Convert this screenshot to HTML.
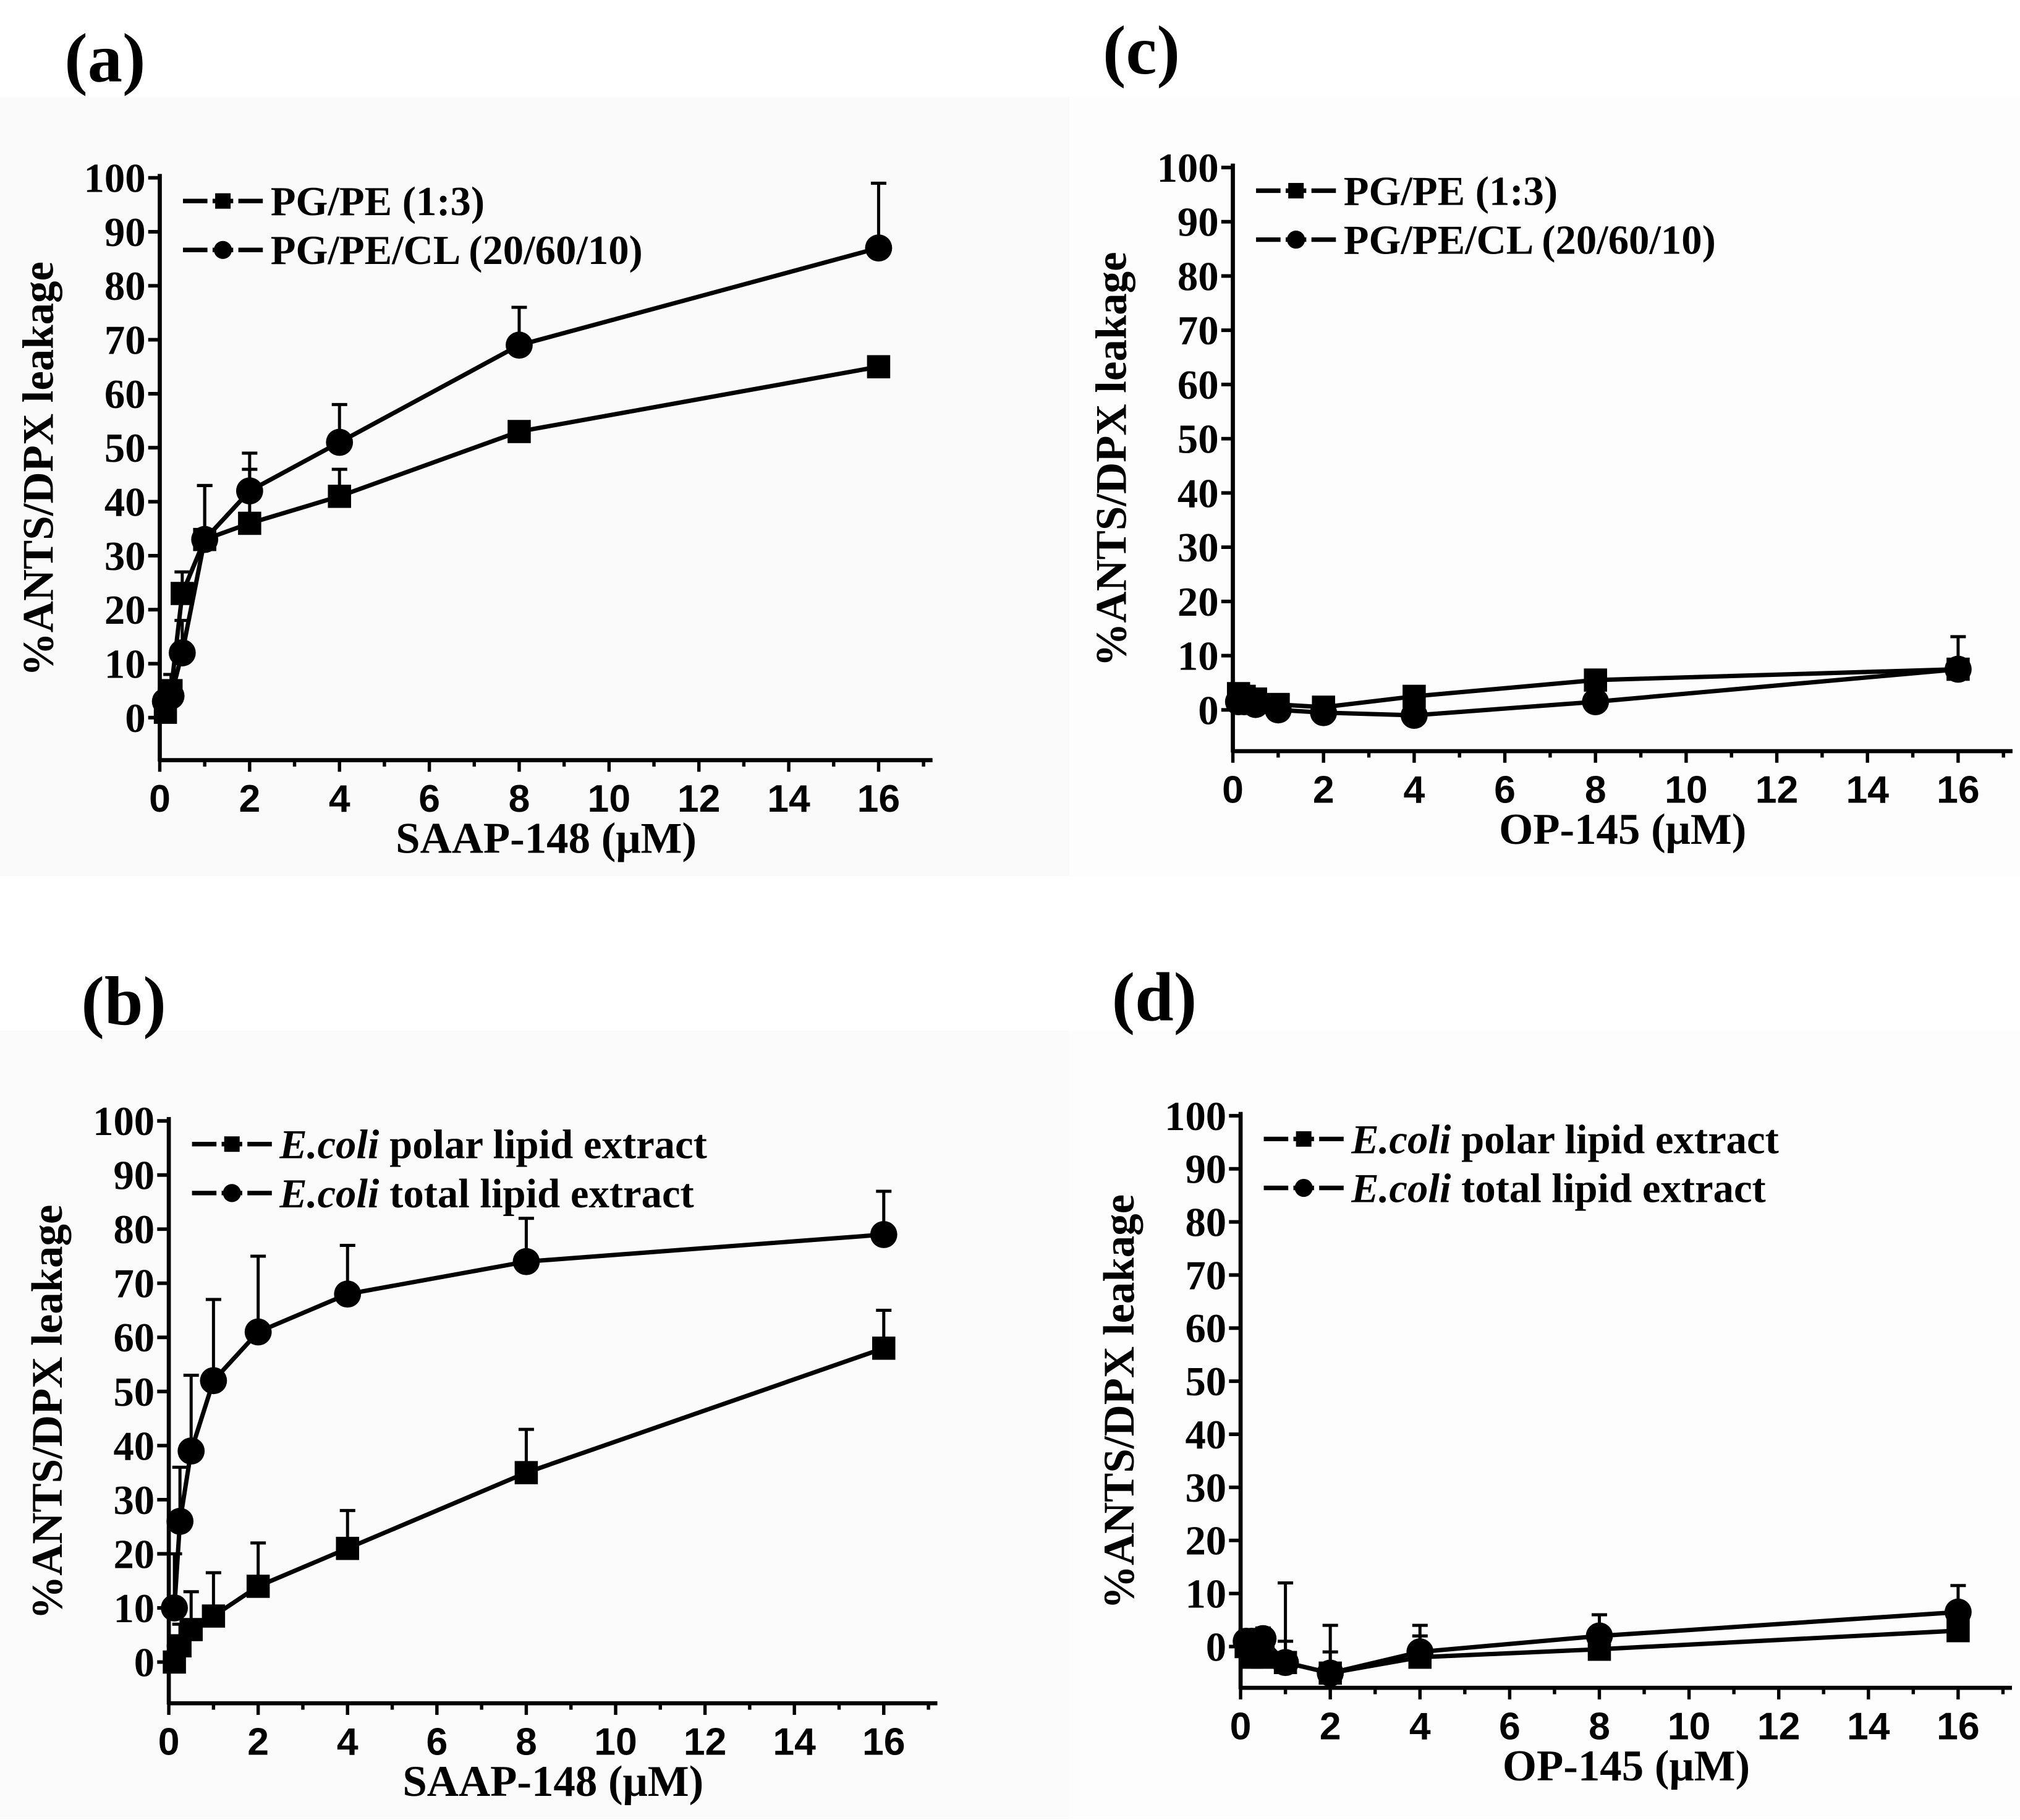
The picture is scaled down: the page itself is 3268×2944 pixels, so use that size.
<!DOCTYPE html>
<html><head><meta charset="utf-8"><style>
html,body{margin:0;padding:0;background:#fff}
svg{display:block}
.tl{font-family:"Liberation Serif",serif;font-weight:bold;font-size:32px}
.xl{font-family:"Liberation Sans",sans-serif;font-weight:bold;font-size:30px}
.ti{font-family:"Liberation Serif",serif;font-weight:bold;font-size:34px}
.lg{font-family:"Liberation Serif",serif;font-weight:bold;font-size:32px}
.pt{font-family:"Liberation Serif",serif;font-weight:bold;font-size:54px}
</style></head><body>
<svg id="fig" width="3268" height="2944" viewBox="0 0 1568 1412.6" xmlns="http://www.w3.org/2000/svg">
<rect x="0" y="0" width="1568" height="1413" fill="#fff"/>
<rect x="0" y="75" width="830" height="605" fill="#fafafa"/>
<rect x="830" y="75" width="738" height="605" fill="#fdfdfd"/>
<rect x="0" y="800" width="830" height="612" fill="#fbfbfb"/>
<rect x="830" y="800" width="738" height="612" fill="#fdfdfd"/>
</svg>
<script>
const xVals=[0.125,0.25,0.5,1,2,4,8,16];
const xTicks=[0,2,4,6,8,10,12,14,16];
const yTicks=[0,10,20,30,40,50,60,70,80,90,100];
const aSq=[1,5,23,33,36,41,53,65];
const aSqErr=[2,3,4,10,10,5,1,1];
const aCi=[3,4,12,33,42,51,69,87];
const aCiErr=[2,2,6,10,7,7,7,12];
const cSq=[3,2.5,2,1,0.5,2.5,5.5,7.5];
const cSqErr=[1,1,1,1,1,1,1,1];
const cCi=[1.5,1.5,1,0,-0.5,-1,1.5,7.5];
const cCiErr=[1,1,1,1,1,1,1,6];
const bSq=[0,3,6,8.5,14,21,35,58];
const bSqErr=[3,4,7,8,8,7,8,7];
const bCi=[10,26,39,52,61,68,74,79];
const bCiErr=[10,10,14,15,14,9,8,8];
const dSq=[0,-2,-2,-3,-5,-2,-0.5,3];
const dSqErr=[2,2,2,4,4,4,3,2];
const dCi=[1,1,1.5,-3,-5,-1,2,6.5];
const dCiErr=[2,2,2,15,9,5,4,5];

const NS="http://www.w3.org/2000/svg";
const svg=document.getElementById('fig');
function mk(tag,attrs,parent){const e=document.createElementNS(NS,tag);for(const k in attrs)e.setAttribute(k,attrs[k]);(parent||svg).appendChild(e);return e;}

const panels=[
 {id:'a',x0:124,x16:682,y0:557,y100:138,axY:590,xlab:'SAAP-148 (μM)',tx:50,ty:63,leg:['PG/PE (1:3)','PG/PE/CL (20/60/10)'],it:false,sq:aSq,sqE:aSqErr,ci:aCi,ciE:aCiErr},
 {id:'c',x0:957,x16:1520,y0:551,y100:130,axY:583,xlab:'OP-145 (μM)',tx:856,ty:57,leg:['PG/PE (1:3)','PG/PE/CL (20/60/10)'],it:false,sq:cSq,sqE:cSqErr,ci:cCi,ciE:cCiErr},
 {id:'b',x0:131,x16:686,y0:1290,y100:870,axY:1322,xlab:'SAAP-148 (μM)',tx:63,ty:795,leg:['polar lipid extract','total lipid extract'],it:true,sq:bSq,sqE:bSqErr,ci:bCi,ciE:bCiErr},
 {id:'d',x0:963,x16:1520,y0:1278,y100:866,axY:1310,xlab:'OP-145 (μM)',tx:863,ty:792,leg:['polar lipid extract','total lipid extract'],it:true,sq:dSq,sqE:dSqErr,ci:dCi,ciE:dCiErr}
];

panels.forEach(p=>{
 const g=mk('g',{});
 
 
 const X=v=>p.x0+(p.x16-p.x0)*v/16;
 const Y=v=>p.y0-(p.y0-p.y100)*v/100;
 const t=mk('text',{x:p.tx,y:p.ty,class:'pt'},g);t.textContent='('+p.id+')';
 
 
 const xEnd=X(17.2);
 const ya=mk('line',{x1:p.x0,y1:Y(100)-3,x2:p.x0,y2:p.axY+1,stroke:'#000','stroke-width':3.2},g);
 
 
 const xa=mk('line',{x1:p.x0-1,y1:p.axY,x2:xEnd,y2:p.axY,stroke:'#000','stroke-width':3.2},g);
 
 
 yTicks.forEach(v=>{
  mk('line',{x1:p.x0-9,y1:Y(v),x2:p.x0,y2:Y(v),stroke:'#000','stroke-width':2.8},g);
  const tt=mk('text',{x:p.x0-11,y:Y(v)+11,class:'tl','text-anchor':'end'},g);tt.textContent=v;
  
  
 });
 for(let v=0;v<=17;v++){
  const maj=v%2===0;
  mk('line',{x1:X(v),y1:p.axY,x2:X(v),y2:p.axY+(maj?9:5),stroke:'#000','stroke-width':2.6},g);
 }
 xTicks.forEach(v=>{
  const tt=mk('text',{x:X(v),y:p.axY+40,class:'xl','text-anchor':'middle'},g);tt.textContent=v;
  
  
 });
 const xt=mk('text',{x:(p.x0+xEnd)/2,y:p.axY+72,class:'ti','text-anchor':'middle'},g);xt.textContent=p.xlab;
 
 
 const yc=(Y(100)+p.axY)/2, yx=p.x0-83;
 const yt=mk('text',{x:yx,y:yc,class:'ti','text-anchor':'middle',transform:`rotate(-90 ${yx} ${yc})`},g);yt.textContent='%ANTS/DPX leakage';
 
 
 [[p.sq,p.sqE,'sq'],[p.ci,p.ciE,'ci']].forEach(([vals,errs,kind])=>{
  const sg=mk('g',{},g);
  
  
  mk('polyline',{points:vals.map((v,i)=>X(xVals[i])+','+Y(v)).join(' '),fill:'none',stroke:'#000','stroke-width':3.4},sg);
  vals.forEach((v,i)=>{
   const cx=X(xVals[i]),cy=Y(v),ty=Y(v+errs[i]);
   mk('line',{x1:cx,y1:cy,x2:cx,y2:ty,stroke:'#000','stroke-width':2.4},sg);
   mk('line',{x1:cx-6,y1:ty,x2:cx+6,y2:ty,stroke:'#000','stroke-width':2.4},sg);
   const m=kind==='sq'?mk('rect',{x:cx-9,y:cy-9,width:18,height:18,fill:'#000'},sg):mk('circle',{cx:cx,cy:cy,r:10.5,fill:'#000'},sg);
   
   
  });
 });
 p.leg.forEach((lab,i)=>{
  const ly=Y(100)+18+i*38, lx=p.x0+18;
  const lg=mk('g',{},g);
  
  
  mk('line',{x1:lx,y1:ly,x2:lx+62,y2:ly,stroke:'#000','stroke-width':3.5,'stroke-dasharray':'19,4,16,4,19'},lg);
  if(i===0)mk('rect',{x:lx+25,y:ly-6,width:12,height:12,fill:'#000'},lg);
  else mk('circle',{cx:lx+31,cy:ly,r:7,fill:'#000'},lg);
  const tx=mk('text',{x:lx+68,y:ly+11,class:'lg'},lg);
  if(p.it){
   const a=document.createElementNS(NS,'tspan');a.setAttribute('font-style','italic');a.textContent='E.coli';tx.appendChild(a);
   tx.appendChild(document.createTextNode(' '+lab));
  } else tx.textContent=lab;
 });
});
</script>
</body></html>
